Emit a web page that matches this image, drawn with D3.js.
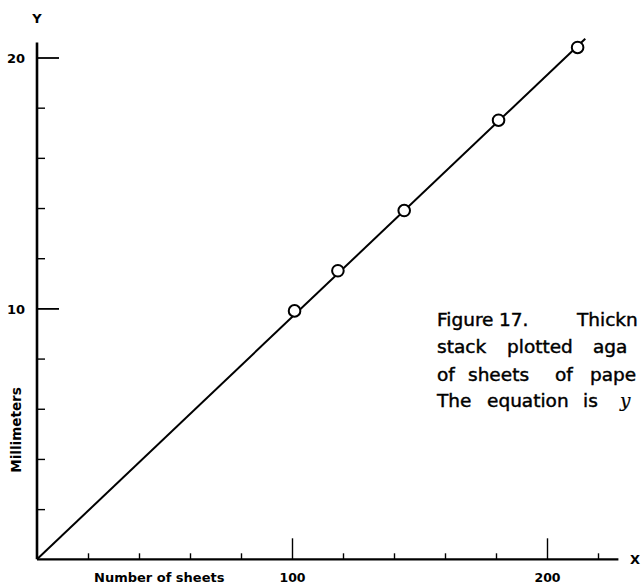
<!DOCTYPE html>
<html><head><meta charset="utf-8">
<script src="https://cdn.jsdelivr.net/npm/d3@7"></script>
<style>
html,body{margin:0;padding:0;background:#fff;overflow:hidden}
svg{display:block}
</style></head>
<body>
<svg id="chart" width="642" height="584"></svg>
<script>
// Data
const sheets = [101, 118, 144, 181, 212];
const thickness = [9.9, 11.5, 13.9, 17.5, 20.4];
const fitX = [0, 215];
const fitY = [0, 20.75];
const xTicks = [20, 40, 60, 80, 100, 120, 140, 160, 180, 200, 220];
const xMajor = [100, 200];
const yTicks = [2, 4, 6, 8, 10, 12, 14, 16, 18, 20];
const yMajor = [10, 20];
const captionLines = [
  ["Figure", "17.", "Thickn"],
  ["stack", "plotted", "aga"],
  ["of", "sheets", "of", "pape"],
  ["The", "equation", "is", "y"]
];

const svg = d3.select("#chart");
const x = d3.scaleLinear().domain([0, 200]).range([37, 547]);
const y = d3.scaleLinear().domain([0, 20]).range([559.3, 57.5]);
const ink = "#000";
const boldFont = "'DejaVu Sans', sans-serif";

// X axis line
svg.append("line")
  .attr("x1", x(0)).attr("x2", x(228))
  .attr("y1", y(0)).attr("y2", y(0))
  .attr("stroke", ink).attr("stroke-width", 2.2);
// Y axis line
svg.append("line")
  .attr("x1", x(0)).attr("x2", x(0))
  .attr("y1", y(0)).attr("y2", y(20.6))
  .attr("stroke", ink).attr("stroke-width", 2.6);

// X axis ticks via d3 axis
const gx = svg.append("g").attr("transform", `translate(0,${y(0)})`)
  .call(d3.axisBottom(x).tickValues(xTicks).tickSizeInner(-6).tickSizeOuter(0).tickFormat(""));
gx.select(".domain").remove();
gx.selectAll(".tick line").attr("stroke", ink).attr("stroke-width", 1.4)
  .attr("y2", d => xMajor.includes(d) ? -21 : -6);
gx.selectAll(".tick").filter(d => xMajor.includes(d)).append("text")
  .attr("y", 23).attr("fill", ink)
  .attr("font-family", boldFont).attr("font-weight", "bold").attr("font-size", 12.5)
  .attr("text-anchor", "middle").text(d => d);

// Y axis ticks via d3 axis
const gy = svg.append("g").attr("transform", `translate(${x(0)},0)`)
  .call(d3.axisRight(y).tickValues(yTicks).tickSizeInner(8).tickSizeOuter(0).tickFormat(""));
gy.select(".domain").remove();
gy.selectAll(".tick line").attr("stroke", ink)
  .attr("stroke-width", d => yMajor.includes(d) ? 1.8 : 1.4)
  .attr("x2", d => yMajor.includes(d) ? 22 : 8);
gy.selectAll(".tick").filter(d => yMajor.includes(d)).append("text")
  .attr("x", -12).attr("dy", "0.36em").attr("fill", ink)
  .attr("font-family", boldFont).attr("font-weight", "bold").attr("font-size", 13)
  .attr("text-anchor", "end").text(d => d);

// Axis letters
svg.append("text").attr("x", x(0)).attr("y", 23).attr("text-anchor", "middle")
  .attr("font-family", boldFont).attr("font-weight", "bold").attr("font-size", 13).text("Y");
svg.append("text").attr("x", 635).attr("y", y(0) + 5).attr("text-anchor", "middle")
  .attr("font-family", boldFont).attr("font-weight", "bold").attr("font-size", 13).text("X");

// Axis titles
svg.append("text").attr("x", 94).attr("y", 582)
  .attr("font-family", boldFont).attr("font-weight", "bold").attr("font-size", 13)
  .text("Number of sheets");
svg.append("text").attr("transform", "translate(21,430) rotate(-90)")
  .attr("text-anchor", "middle")
  .attr("font-family", boldFont).attr("font-weight", "bold").attr("font-size", 13.5)
  .text("Millimeters");

// Fit line
const line = d3.line().x(d => x(d[0])).y(d => y(d[1]));
svg.append("path").datum(d3.zip(fitX, fitY))
  .attr("d", line).attr("fill", "none").attr("stroke", ink).attr("stroke-width", 2);

// Points
svg.selectAll("circle.pt").data(d3.zip(sheets, thickness)).join("circle")
  .attr("class", "pt")
  .attr("cx", d => x(d[0])).attr("cy", d => y(d[1])).attr("r", 5.8)
  .attr("fill", "#fff").attr("stroke", ink).attr("stroke-width", 2);

// Caption (justified lines, clipped by page edge as in the source)
const capX = [
  [437, 499, 577],
  [437, 507, 593],
  [437, 468, 555, 590],
  [437, 487, 583, 620]
];
const capBase = [326, 352.5, 380.5, 406.5];
const cap = svg.append("g").attr("font-family", "'DejaVu Sans', sans-serif")
  .attr("font-size", 18.5).attr("fill", ink)
  .attr("stroke", ink).attr("stroke-width", 0.45);
captionLines.forEach((words, i) => {
  const t = cap.append("text").attr("y", capBase[i]);
  words.forEach((w, j) => {
    const isVar = (w === "y" && i === 3);
    t.append("tspan").attr("x", capX[i][j])
      .attr("font-style", isVar ? "italic" : null)
      .attr("font-family", isVar ? "'DejaVu Serif', serif" : null)
      .attr("stroke-width", isVar ? 0.2 : null)
      .text(w);
  });
});
</script>
</body></html>
